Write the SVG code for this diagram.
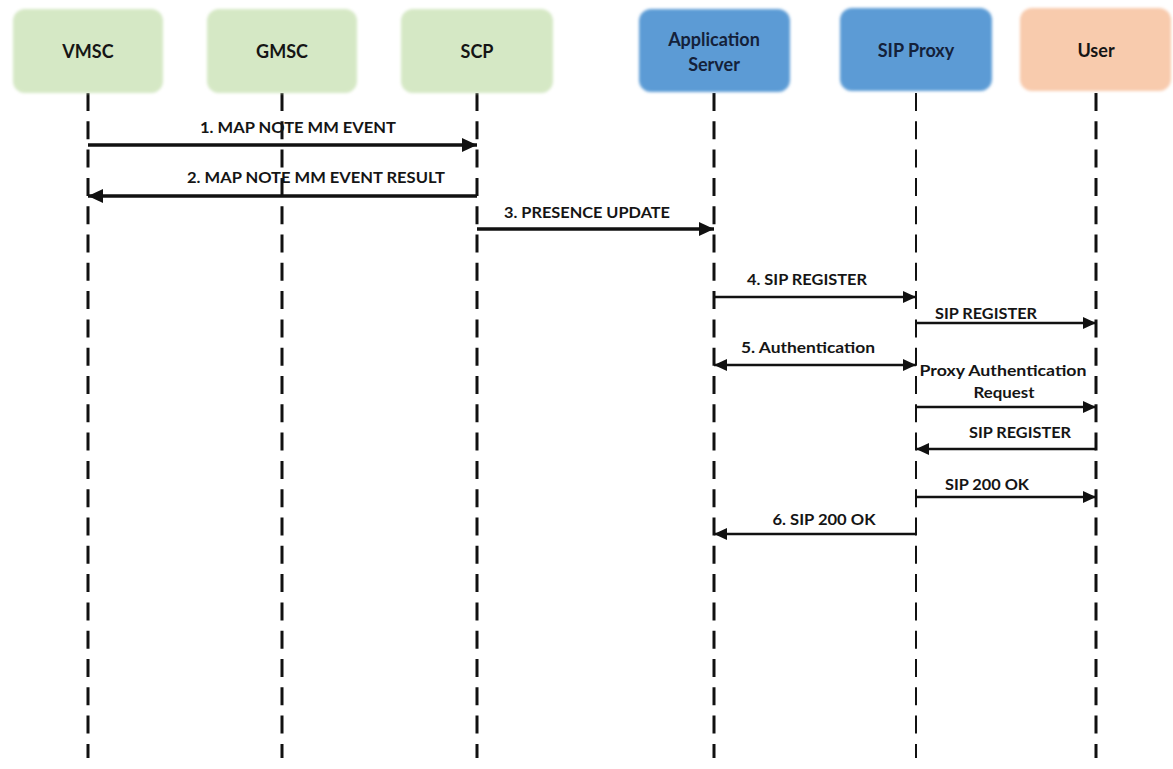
<svg xmlns="http://www.w3.org/2000/svg" width="1173" height="769" viewBox="0 0 1173 769">
<style>
.box-g{fill:#d5e8c5;}
.box-b{fill:#5b9bd5;}
.box-o{fill:#f8cbad;}
.title{font-family:Lato,"Liberation Sans",sans-serif;font-weight:bold;font-size:18px;text-anchor:middle;fill:#151515;}
.title-b{fill:#14213a;}
.life{stroke:#111;stroke-width:3;stroke-dasharray:18 10.3;fill:none;}
.life-thin{stroke:#111;stroke-width:2;stroke-dasharray:18 10.3;fill:none;}
.msg{stroke:#111;stroke-width:3.5;fill:none;}
.msg2{stroke:#111;stroke-width:2.6;fill:none;}
.lbl{font-family:Lato,"Liberation Sans",sans-serif;font-weight:bold;font-size:15px;text-anchor:middle;fill:#151515;}
</style>
<defs>
<filter id="soft" x="-10%" y="-10%" width="120%" height="120%">
<feGaussianBlur stdDeviation="1.4"/>
</filter>
<marker id="ah" markerUnits="userSpaceOnUse" markerWidth="16" markerHeight="14" refX="15" refY="7" orient="auto-start-reverse">
<path d="M0,0 L15,7 L0,14 Z" fill="#111"/>
</marker>
<marker id="ah2" markerUnits="userSpaceOnUse" markerWidth="14" markerHeight="12" refX="13" refY="6" orient="auto-start-reverse">
<path d="M0,0 L13,6 L0,12 Z" fill="#111"/>
</marker>
</defs>
<rect width="1173" height="769" fill="#ffffff"/>

<g id="lifelines">
<line class="life" x1="88" y1="93" x2="88" y2="758"/>
<line class="life" x1="282" y1="93" x2="282" y2="758"/>
<line class="life" x1="477" y1="93" x2="477" y2="758"/>
<line class="life" x1="714" y1="93" x2="714" y2="758"/>
<line class="life-thin" x1="916" y1="93" x2="916" y2="758"/>
<line class="life" x1="1096" y1="93" x2="1096" y2="758"/>
</g>

<g id="node-vmsc">
<rect class="box-g" x="13" y="9" width="150" height="84" rx="12" filter="url(#soft)"/>
<text class="title" x="88" y="58">VMSC</text>
</g>
<g id="node-gmsc">
<rect class="box-g" x="207" y="9" width="150" height="84" rx="12" filter="url(#soft)"/>
<text class="title" x="282" y="58">GMSC</text>
</g>
<g id="node-scp">
<rect class="box-g" x="401" y="9" width="152" height="84" rx="12" filter="url(#soft)"/>
<text class="title" x="477" y="58">SCP</text>
</g>
<g id="node-as">
<rect class="box-b" x="639" y="9" width="151" height="83" rx="12" filter="url(#soft)"/>
<text class="title title-b" x="714" y="46">Application</text>
<text class="title title-b" x="714" y="71">Server</text>
</g>
<g id="node-sipproxy">
<rect class="box-b" x="840" y="8" width="152" height="83" rx="12" filter="url(#soft)"/>
<text class="title title-b" x="916" y="57">SIP Proxy</text>
</g>
<g id="node-user">
<rect class="box-o" x="1020" y="8" width="151" height="83" rx="12" filter="url(#soft)"/>
<text class="title" x="1096" y="57">User</text>
</g>

<g id="connectors">
<line class="msg" x1="88" y1="145" x2="477" y2="145" marker-end="url(#ah)"/>
<line class="msg" x1="477" y1="196" x2="88" y2="196" marker-end="url(#ah)"/>
<line class="msg" x1="477" y1="229" x2="714" y2="229" marker-end="url(#ah)"/>
<line class="msg2" x1="714" y1="297" x2="916" y2="297" marker-end="url(#ah2)"/>
<line class="msg2" x1="916" y1="323" x2="1096" y2="323" marker-end="url(#ah2)"/>
<line class="msg2" x1="714" y1="365" x2="916" y2="365" marker-start="url(#ah2)" marker-end="url(#ah2)"/>
<line class="msg2" x1="916" y1="407" x2="1096" y2="407" marker-end="url(#ah2)"/>
<line class="msg2" x1="1096" y1="449" x2="916" y2="449" marker-end="url(#ah2)"/>
<line class="msg2" x1="916" y1="497" x2="1096" y2="497" marker-end="url(#ah2)"/>
<line class="msg2" x1="916" y1="534" x2="714" y2="534" marker-end="url(#ah2)"/>
</g>

<g id="labels">
<text class="lbl" x="298" y="133" textLength="196" lengthAdjust="spacingAndGlyphs">1. MAP NOTE MM EVENT</text>
<text class="lbl" x="316" y="183" textLength="258" lengthAdjust="spacingAndGlyphs">2. MAP NOTE MM EVENT RESULT</text>
<text class="lbl" x="587" y="218" textLength="166" lengthAdjust="spacingAndGlyphs">3. PRESENCE UPDATE</text>
<text class="lbl" x="807" y="285" textLength="120" lengthAdjust="spacingAndGlyphs">4. SIP REGISTER</text>
<text class="lbl" x="986" y="319" textLength="102" lengthAdjust="spacingAndGlyphs">SIP REGISTER</text>
<text class="lbl" x="808" y="353" textLength="134" lengthAdjust="spacingAndGlyphs">5. Authentication</text>
<text class="lbl" x="1003" y="376" textLength="167" lengthAdjust="spacingAndGlyphs">Proxy Authentication</text>
<text class="lbl" x="1004" y="398" textLength="61" lengthAdjust="spacingAndGlyphs">Request</text>
<text class="lbl" x="1020" y="438" textLength="102" lengthAdjust="spacingAndGlyphs">SIP REGISTER</text>
<text class="lbl" x="987" y="490" textLength="84" lengthAdjust="spacingAndGlyphs">SIP 200 OK</text>
<text class="lbl" x="824" y="525" textLength="103" lengthAdjust="spacingAndGlyphs">6. SIP 200 OK</text>
</g>
</svg>
